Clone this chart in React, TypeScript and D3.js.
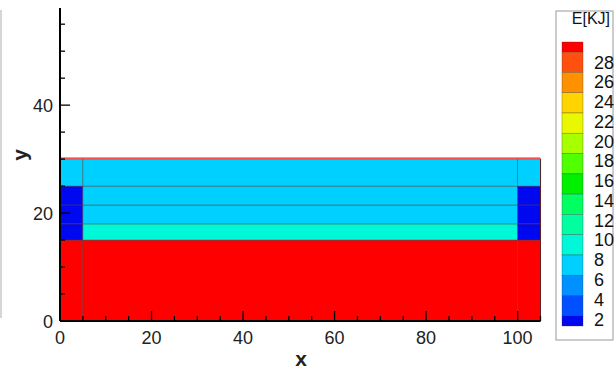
import * as d3 from "d3";

// mesh edges of the field (x, y)
const xEdges = [0, 5, 100, 105];
const yEdges = [0, 15, 18, 21.5, 25, 30];
// energy per cell, rows bottom -> top, columns left -> right
const cellE = [
  [29, 29, 29],
  [1.5, 9, 1.5],
  [1.5, 7, 1.5],
  [1.5, 7, 1.5],
  [7, 7, 7],
];

const xTicks = [0, 20, 40, 60, 80, 100];
const yTicks = [0, 20, 40];
const legendLevels = [28, 26, 24, 22, 20, 18, 16, 14, 12, 10, 8, 6, 4, 2];
const legendColors = [
  "#0008f0", "#0050ff", "#0090ff", "#00d0ff", "#00f8d8",
  "#00ffa0", "#00ff60", "#00f000", "#50ff00", "#a8ff00",
  "#e8f800", "#ffd400", "#ff9000", "#ff5010", "#ff0000",
];

const W = 616, H = 372;

export default function App() {
  const x = d3.scaleLinear().domain([0, 105]).range([60, 540.5]);
  const y = d3.scaleLinear().domain([0, 58]).range([321, 8]);
  const color = d3.scaleThreshold<number, string>()
    .domain(legendLevels.slice().reverse())
    .range(legendColors);

  const cells: {x0: number, x1: number, y0: number, y1: number, e: number}[] = [];
  cellE.forEach((row, j) => {
    row.forEach((e, i) => {
      cells.push({x0: xEdges[i], x1: xEdges[i + 1], y0: yEdges[j], y1: yEdges[j + 1], e});
    });
  });

  const xMinor = d3.range(0, 105.1, 5);
  const yMinor = d3.range(0, 56, 5);

  // legend scales
  const ly = d3.scaleLinear().domain([29, 1]).range([42, 326]);
  const labelY = d3.scaleLinear().domain([28, 2]).range([62, 319]);
  const bounds = [29, ...legendLevels, 1];

  const font = "'Liberation Sans', Arial, sans-serif";
  const narrow = "'Liberation Sans Narrow', 'Liberation Sans', Arial, sans-serif";

  return (
    <svg width={W} height={H} style={{position: "absolute", left: 0, top: 0, background: "#fff"}}
         fontFamily={font}>
      <line x1={1} x2={1} y1={10} y2={318} stroke="#c8c8c8" strokeWidth={1.5}/>

      {cells.map((c, i) => (
        <rect key={i} x={x(c.x0)} y={y(c.y1)} width={x(c.x1) - x(c.x0)} height={y(c.y0) - y(c.y1)}
              fill={color(c.e)} stroke="#5a3a3a" strokeOpacity={0.55} strokeWidth={0.8}/>
      ))}
      <line x1={x(0)} x2={x(105)} y1={y(30) - 1} y2={y(30) - 1} stroke="#ff2020" strokeWidth={1.3}/>
      <line x1={x(105)} x2={x(105)} y1={y(30)} y2={y(0)} stroke="#602020" strokeWidth={1}/>

      {/* axes */}
      <line x1={x(0)} x2={x(105)} y1={y(0)} y2={y(0)} stroke="#000" strokeWidth={2}/>
      <line x1={x(0)} x2={x(0)} y1={y(0)} y2={y(58)} stroke="#000" strokeWidth={2}/>
      {xMinor.map(v => (
        <line key={"xm" + v} x1={x(v)} x2={x(v)} y1={y(0)} y2={y(0) - (v % 20 === 0 ? 10 : 5)}
              stroke="#000" strokeWidth={1.3}/>
      ))}
      {yMinor.map(v => (
        <line key={"ym" + v} x1={x(0)} x2={x(0) + (v % 20 === 0 ? 10 : 5)} y1={y(v)} y2={y(v)}
              stroke="#000" strokeWidth={1.3}/>
      ))}
      {xTicks.map(v => (
        <text key={"xt" + v} x={x(v)} y={y(0) + 23} textAnchor="middle" fontSize={18}
              fill="#222">{v}</text>
      ))}
      {yTicks.map(v => (
        <text key={"yt" + v} x={x(0) - 7} y={y(v) + 6.5} textAnchor="end" fontSize={18}
              fill="#222">{v}</text>
      ))}
      <text x={301} y={366} textAnchor="middle" fontSize={21} fontWeight="bold" fill="#222">x</text>
      <text transform="translate(27,155) rotate(-90)" textAnchor="middle" fontSize={21}
            fontWeight="bold" fill="#222">y</text>

      {/* legend */}
      <rect x={556} y={11} width={57} height={329} fill="#fff" stroke="#aaa" strokeWidth={1.2}/>
      <text x={610} y={24} textAnchor="end" fontSize={16} fill="#111"
            style={{fontFamily: narrow}}>E[KJ]</text>
      {bounds.slice(0, -1).map((b, i) => (
        <rect key={"lg" + i} x={562} y={ly(b)} width={21} height={ly(bounds[i + 1]) - ly(b)}
              fill={legendColors[legendColors.length - 1 - i]} stroke="#333" strokeOpacity={0.5}
              strokeWidth={0.6}/>
      ))}
      {legendLevels.map(v => (
        <text key={"ll" + v} x={594} y={labelY(v) + 6.5} fontSize={18} fill="#111"
              style={{fontFamily: narrow}}>{v}</text>
      ))}
    </svg>
  );
}
